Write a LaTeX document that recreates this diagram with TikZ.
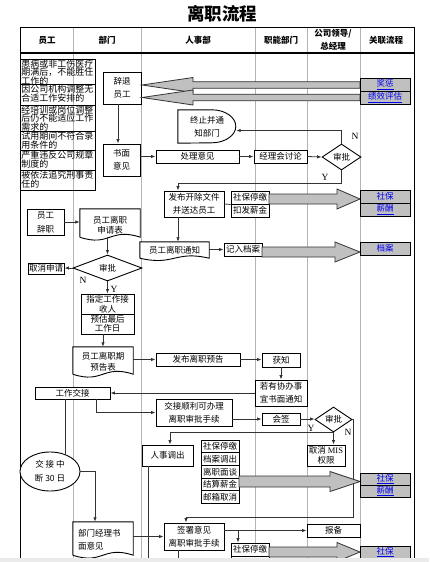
\documentclass[tikz,border=0pt]{standalone}
\usepackage{fontspec}
\usetikzlibrary{shapes.geometric,arrows.meta,calc}
\newfontfamily\cjk{Noto Sans CJK SC}
\newfontfamily\lat{Liberation Serif}
\definecolor{relgray}{HTML}{C0C0C0}
\definecolor{colgray}{HTML}{B4B4B4}
\definecolor{lnkc}{HTML}{333333}
\definecolor{lnkblue}{HTML}{0000EE}
\tikzset{
  txt/.style={inner sep=0pt, align=center, font=\cjk\fontsize{8.5}{13}\selectfont},
  bx/.style={txt, draw=black, fill=white, line width=0.9pt},
  sbx/.style={bx, minimum width=38pt, minimum height=13pt},
  dia/.style={txt, draw=black, fill=white, line width=0.9pt, diamond},
  rel/.style={txt, draw=black, line width=1pt, fill=relgray, text=lnkblue, minimum width=50pt},
  hd/.style={inner sep=0pt, align=center, font=\cjk\bfseries\fontsize{8.5}{13}\selectfont},
  ln/.style={draw=lnkc, line width=0.8pt},
  ar/.style={ln, -{Latex[length=4.5pt,width=3.5pt]}},
  fat/.style={draw=black!80, line width=0.8pt, fill=relgray, line join=miter},
  yn/.style={inner sep=0pt, font=\lat\fontsize{9.5}{10}\selectfont},
  docln/.style={draw=black, line width=0.9pt},
  reason/.style={inner sep=0pt, anchor=north west, align=left, font=\cjk\fontsize{9}{8.8}\selectfont},
}
\newcommand\fatarrow[6]{\path[fat] (#1,#4-#5) -- (#2,#4-#5) -- (#2,#4-#6) -- (#3,#4) -- (#2,#4+#6) -- (#2,#4+#5) -- (#1,#4+#5) -- cycle;}
\newcommand\docshape[2]{\draw[docln, fill=white] (#1.south west) -- (#1.north west) -- (#1.north east) -- (#1.south east) .. controls ($(#1.south)+(0,-#2)$) and ($(#1.south)+(0,#2)$) .. (#1.south west);}
\begin{document}
\begin{tikzpicture}[x=1pt,y=-1pt]
\useasboundingbox (0,0) rectangle (429,562);
\fill[white] (0,0) rectangle (429,562);
\begin{scope}
\clip (0,0) rectangle (429,558);
% title
\node[inner sep=0pt, font=\cjk\bfseries\fontsize{17.5}{20}\selectfont] (title) at (222,14) {离职流程};
% table
\foreach \x in {73,141,255,307,360} \draw[colgray, line width=0.9pt] (\x,27) -- (\x,562);
\draw[black, line width=1pt] (20,562) -- (20,27) -- (414,27) -- (414,562);
\draw[black, line width=1.3pt] (20,53) -- (414,53);
\node[hd] (h1) at (47,40) {员工};
\node[hd] (h2) at (107,40) {部门};
\node[hd] (h3) at (198,40) {人事部};
\node[hd] (h4) at (281,40) {职能部门};
\node[hd] (h5) at (333,40) {公司领导/\\总经理};
\node[hd] (h6) at (386,40) {关联流程};
% reasons
\foreach \a/\b in {59/84,84/105,105/131,131/150,150/170,170/190} \draw[docln] (20,\a) rectangle (95,\b);
\node[reason] (r1) at (21.2,59.3) {患病或非工伤医疗\\期满后，不能胜任\\工作的};
\node[reason] (r2) at (21.2,84.6) {因公司机构调整无\\合适工作安排的};
\node[reason] (r3) at (21.2,105.3) {经培训或岗位调整\\后仍不能适应工作\\需求的};
\node[reason] (r4) at (21.2,131.5) {试用期间不符合录\\用条件的};
\node[reason] (r5) at (21.2,150.5) {严重违反公司规章\\制度的};
\node[reason] (r6) at (21.2,170.5) {被依法追究刑事责\\任的};
% nodes
\node[bx, minimum width=38pt, minimum height=32pt] (cizui) at (122,88) {辞退\\员工};
\node[bx, minimum width=37pt, minimum height=32pt] (shumian) at (121.5,160) {书面\\意见};
\node[bx, minimum width=83pt, minimum height=13pt] (chuli) at (197.5,156.5) {处理意见};
\node[bx, minimum width=53pt, minimum height=13pt] (jlhy) at (280.5,156.5) {经理会讨论};
\node[dia, minimum width=39pt, minimum height=26pt] (sp1) at (341.5,157) {审批};
\node[txt, minimum width=58pt, minimum height=33pt] (zz) at (207,126.5) {};
\draw[docln, fill=white] (zz.north west) -- ++(34,0) arc[start angle=90, end angle=-90, x radius=24pt, y radius=16.5pt] -- (zz.south west) -- cycle;
\node[txt] (zzt) at (zz) {终止并通\\知部门};
\node[bx, minimum width=60pt, minimum height=26pt] (fabu) at (194,204) {发布开除文件\\并送达员工};
\node[sbx] (s1a) at (250,197.5) {社保停缴};
\node[sbx] (s1b) at (250,210.5) {扣发薪金};
\node[txt, minimum width=69pt, minimum height=16pt] (tongzhi) at (174.5,250) {};
\docshape{tongzhi}{8}
\node[txt] (tongzhit) at (tongzhi) {员工离职通知};
\node[sbx] (jiru) at (243,249.5) {记入档案};
\node[bx, minimum width=37pt, minimum height=26pt, font=\cjk\fontsize{8.5}{14}\selectfont] (cizhi) at (45.5,222) {员工\\辞职};
\node[txt, minimum width=60pt, minimum height=28pt] (shenqing) at (110,223) {};
\docshape{shenqing}{10}
\node[txt, font=\cjk\fontsize{8.5}{9.5}\selectfont] (shenqingt) at (110,225) {员工离职\\申请表};
\node[dia, minimum width=69pt, minimum height=26pt] (sp2) at (107.5,268) {审批};
\node[bx, minimum width=36pt, minimum height=11pt] (quxiao) at (46,268.5) {取消申请};
\node[bx, minimum width=53pt, minimum height=20pt, font=\cjk\fontsize{8.5}{9.5}\selectfont] (zhiding) at (107.5,304) {指定工作接\\收人};
\node[bx, minimum width=53pt, minimum height=20pt, font=\cjk\fontsize{8.5}{9.5}\selectfont] (yugu) at (107.5,324) {预估最后\\工作日};
\node[txt, minimum width=60pt, minimum height=27pt] (yugao) at (103,360.5) {};
\docshape{yugao}{10}
\node[txt, font=\cjk\fontsize{8.5}{11}\selectfont] (yugaot) at (103,362) {员工离职期\\预告表};
\node[bx, minimum width=84pt, minimum height=13pt] (fabuyg) at (198,359.5) {发布离职预告};
\node[bx, minimum width=38pt, minimum height=14pt] (huozhi) at (281,360) {获知};
\node[bx, minimum width=52pt, minimum height=26pt] (ruoyou) at (281,393) {若有协办事\\宜书面通知};
\node[bx, minimum width=75pt, minimum height=12pt] (jiaojie) at (72.5,393) {工作交接};
\node[bx, minimum width=76pt, minimum height=27pt] (shunli) at (194,412.5) {交接顺利可办理\\离职审批手续};
\node[bx, minimum width=38pt, minimum height=12pt] (huiqian) at (281,419) {会签};
\node[dia, minimum width=37pt, minimum height=25pt] (sp3) at (333.5,419.5) {审批};
\node[bx, minimum width=38pt, minimum height=21pt, font=\cjk\fontsize{8.5}{10}\selectfont] (mis) at (326,455.5) {取消 {\lat MIS}\\权限};
\node[bx, minimum width=51pt, minimum height=21pt] (renshi) at (167.5,455.5) {人事调出};
\node[bx, minimum width=38pt, minimum height=12.7pt] (l1) at (220,446.35) {社保停缴};
\node[bx, minimum width=38pt, minimum height=12.7pt] (l2) at (220,459.05) {档案调出};
\node[bx, minimum width=38pt, minimum height=12.7pt] (l3) at (220,471.75) {离职面谈};
\node[bx, minimum width=38pt, minimum height=12.7pt] (l4) at (220,484.45) {结算薪金};
\node[bx, minimum width=38pt, minimum height=12.7pt] (l5) at (220,497.15) {邮箱取消};
\node[txt, draw=black, fill=white, line width=0.9pt, ellipse, minimum width=60pt, minimum height=39pt, font=\cjk\fontsize{8.5}{14}\selectfont] (jjzd) at (50,471.5) {交 接 中\\断 30 日};
\node[txt, minimum width=60pt, minimum height=33pt] (bumen) at (103,538.5) {};
\docshape{bumen}{10}
\node[txt, text width=50pt, align=left] (bument) at (103,540) {部门经理书\\面意见};
\node[bx, minimum width=60pt, minimum height=27pt] (qianshu) at (194,536.5) {签署意见\\离职审批手续};
\node[bx, minimum width=53pt, minimum height=13pt] (baobei) at (333.5,530.5) {报备};
\node[sbx] (s4a) at (250,549.5) {社保停缴};
\node[sbx] (s4b) at (250,562.5) {扣发薪金};
% connectors
\draw[ar] ([xshift=-4pt]cizui.south) -- ([xshift=-4pt]cizui.south |- shumian.north);
\draw[ar] (chuli.west -| shumian.east) -- (chuli.west);
\draw[ar] (chuli.east) -- (jlhy.west);
\draw[ar] (jlhy.east) -- (sp1.west);
\draw[ar] (sp1.north) |- ([yshift=-4pt]zz.east);
\coordinate (yb1) at (178,183);
\draw[ar] (sp1.south) |- (yb1) -- (yb1 |- fabu.north);
\draw[ln] (fabu.east) -- (s1a.south west);
\draw[ar] (yb1 |- fabu.south) -- (yb1 |- tongzhi.north);
\draw[ar] (jiru.west -| tongzhi.east) -- (jiru.west);
\draw[ar] (cizhi.east) -- (cizhi.east -| shenqing.west);
\draw[ar] (sp2.north |- shenqing.south) -- (sp2.north);
\draw[ar] (sp2.west) -- (sp2.west -| quxiao.east);
\draw[ar] (sp2.south) -- (sp2.south |- zhiding.north);
\draw[ar] (yugao.north |- yugu.south) -- (yugao.north);
\draw[ar] (fabuyg.west -| yugao.east) -- (fabuyg.west);
\draw[ar] (fabuyg.east) -- (fabuyg.east -| huozhi.west);
\draw[ar] (huozhi.south) -- (huozhi.south |- ruoyou.north);
\draw[ar] (ruoyou.west) -- (ruoyou.west -| jiaojie.east);
\draw[ar] ([xshift=23.5pt]jiaojie.south) |- (shunli.west);
\draw[ln] (jjzd.48 |- jiaojie.south) -- (jjzd.48);
\draw[ar] (jjzd.east) -| ([xshift=-8pt]bumen.north);
\draw[ar] (qianshu.west -| bumen.east) -- (qianshu.west);
\draw[ar] (baobei.west -| qianshu.east) -- (baobei.west);
\draw[ar] ([xshift=-12pt]s4a.north |- baobei.west) -- ([xshift=-12pt]s4a.north);
\draw[ar] (huiqian.west -| shunli.east) -- (huiqian.west);
\draw[ar] (huiqian.east) -- (huiqian.east -| sp3.west);
\draw[ar] (sp3.south) -- (sp3.south |- mis.north);
\draw[ar] (sp3.south) -| ([xshift=2.5pt]renshi.north);
\coordinate (nb) at (353,517);
\draw[ar] (sp3.east) -| (nb) -| ([xshift=-8pt]qianshu.north);
\draw[ln] ([xshift=-19.5pt]renshi.south) -- ++(0,100);
\draw[ln] ([xshift=-16pt]qianshu.south) -- ++(0,30);
% labels
\node[yn] (n1) at (355,136) {N};
\node[yn] (y1) at (325,177) {Y};
\node[yn] (n2) at (83,280) {N};
\node[yn] (y2) at (114,289) {Y};
\node[yn] (y3) at (311,428) {Y};
\node[yn] (n3) at (348,432) {N};
% fat arrows
\fatarrow{360}{193}{142}{85}{3.3}{7.5}
\fatarrow{360}{193}{142}{97.5}{3.3}{7.5}
\fatarrow{269}{337}{360}{199}{5}{10}
\fatarrow{262}{335}{360}{252}{5}{10}
\fatarrow{239}{330}{360}{481.5}{5.5}{10}
\fatarrow{269}{337}{360}{552}{5}{9.5}
% related processes
\node[rel, minimum height=13pt] (ra1) at (385,84.5) {\underline{奖惩}};
\node[rel, minimum height=13pt] (ra2) at (385,97.5) {\underline{绩效评估}};
\node[rel, minimum height=13pt] (rb1) at (385,196.5) {社保};
\node[rel, minimum height=13pt] (rb2) at (385,209.5) {\underline{薪酬}};
\node[rel, minimum height=13pt] (rc) at (385,248.5) {档案};
\node[rel, minimum height=12pt] (rd1) at (385,479) {\underline{社保}};
\node[rel, minimum height=12pt] (rd2) at (385,491) {\underline{薪酬}};
\node[rel, minimum height=12pt] (re1) at (385,552) {\underline{社保}};
\node[rel, minimum height=12pt] (re2) at (385,564) {\underline{薪酬}};
\end{scope}
\fill[black!8] (0,558) rectangle (429,562);
\end{tikzpicture}
\end{document}
